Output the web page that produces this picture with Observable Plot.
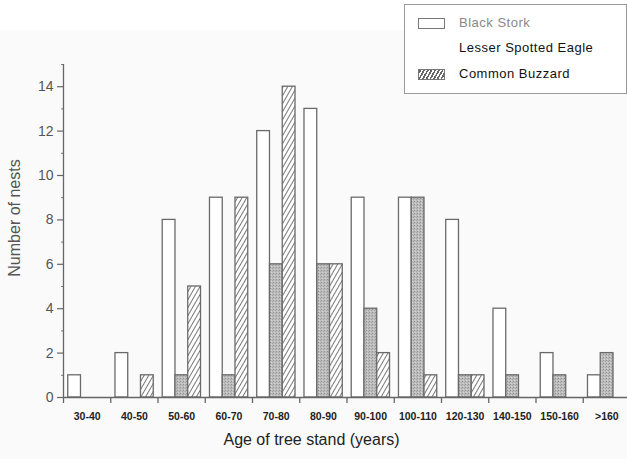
<!DOCTYPE html>
<html>
<head>
<meta charset="utf-8">
<script src="https://cdn.jsdelivr.net/npm/d3@7"></script>
<script src="https://cdn.jsdelivr.net/npm/@observablehq/plot@0.6"></script>
<style>
  html, body { margin: 0; padding: 0; background: #fafafa; overflow: hidden; }
  #wrap { position: relative; width: 627px; height: 459px; background: #fafafa; }
  #topband { position: absolute; left: 0; top: 0; width: 627px; height: 30px; background: #ffffff; }
  #legend { position: absolute; left: 404px; top: 4px; width: 221px; height: 88px;
    border: 1px solid #9a9a9a; background: #ffffff; font-family: "Liberation Sans", Arial, sans-serif;
    font-size: 13px; letter-spacing: 0.5px; }
  .item { position: absolute; left: 0; height: 16px; }
  .sw { position: absolute; left: 13px; width: 27px; height: 11px; box-sizing: border-box; }
  .lab { position: absolute; left: 54px; top: -1px; white-space: nowrap; }
  svg { position: absolute; left: 0; top: 0; }
</style>
</head>
<body>
<div id="wrap">
  <div id="topband"></div>
  <div id="chart"></div>
  <div id="legend"></div>
</div>
<script>
const categories = ["30-40","40-50","50-60","60-70","70-80","80-90","90-100","100-110","120-130","140-150","150-160",">160"];
const blackStork =         [1, 2, 8, 9, 12, 13, 9, 9, 8, 4, 2, 1];
const lesserSpottedEagle = [0, 0, 1, 1,  6,  6, 4, 9, 1, 1, 1, 2];
const commonBuzzard =      [0, 1, 5, 9, 14,  6, 2, 1, 1, 0, 0, 0];
const seriesNames = ["Black Stork", "Lesser Spotted Eagle", "Common Buzzard"];
const yMajor = [0, 2, 4, 6, 8, 10, 12, 14];
const yMinor = [1, 3, 5, 7, 9, 11, 13, 15];

const series = [blackStork, lesserSpottedEagle, commonBuzzard];
const fills = ["#ffffff", "url(#stipple)", "url(#hatch)"];
const pad = 0.1, bw = 0.27;
const rows = [];
categories.forEach((c, i) => {
  series.forEach((vals, k) => {
    if (vals[i] > 0) rows.push({cat: c, i, k, series: seriesNames[k], value: vals[i],
      x1: i + pad + k * bw, x2: i + pad + (k + 1) * bw});
  });
});

const font = "Liberation Sans, Arial, sans-serif";

const plot = Plot.plot({
  width: 627,
  height: 459,
  marginLeft: 63,
  marginRight: 0,
  marginTop: 64,
  marginBottom: 62,
  style: {background: "transparent", fontFamily: font, overflow: "visible"},
  x: {domain: [0, 12], range: [63, 630], axis: null},
  y: {domain: [0, 15], axis: null},
  marks: [
    ...[0, 1, 2].map(k => Plot.rectY(rows.filter(d => d.k === k), {
      x1: "x1", x2: "x2", y1: 0, y2: "value",
      fill: fills[k], stroke: "#6a6a6a", strokeWidth: 1.3
    })),
    Plot.ruleY([0], {stroke: "#666", strokeWidth: 1.3}),
    Plot.ruleX([0], {stroke: "#666", strokeWidth: 1.3}),
    Plot.axisY({ticks: yMajor, tickSize: 6, tickPadding: 4, label: null,
      fontSize: 14, color: "#555", stroke: "#666", strokeWidth: 1.2}),
    Plot.axisY({ticks: yMinor, tickSize: 2, tickFormat: () => "", label: null, stroke: "#777"}),
    Plot.axisX({ticks: d3.range(0, 12), tickSize: 6, tickFormat: () => "", label: null,
      stroke: "#666", strokeWidth: 1.3}),
    Plot.text(categories, {x: (d, i) => i + 0.5, y: 0, text: d => d, dy: 19,
      fontSize: 10.5, fill: "#222", fontWeight: "bold", letterSpacing: 0.7}),
    Plot.text(["Number of nests"], {frameAnchor: "left", textAnchor: "middle", rotate: -90, dx: -49, dy: -13,
      fontSize: 16, fill: "#555", letterSpacing: 1.4}),
    Plot.text(["Age of tree stand (years)"], {frameAnchor: "bottom", textAnchor: "middle", dx: -34, dy: 47,
      fontSize: 16, fill: "#222", letterSpacing: 0.8})
  ]
});

const defs = d3.select(plot).insert("defs", ":first-child");
const st = defs.append("pattern").attr("id", "stipple").attr("patternUnits", "userSpaceOnUse")
  .attr("width", 3).attr("height", 3);
st.append("rect").attr("width", 3).attr("height", 3).attr("fill", "#bdbdbd");
st.append("rect").attr("x", 0).attr("y", 0).attr("width", 1).attr("height", 1).attr("fill", "#8f8f8f");
st.append("rect").attr("x", 2).attr("y", 1).attr("width", 1).attr("height", 1).attr("fill", "#a5a5a5");
st.append("rect").attr("x", 1).attr("y", 2).attr("width", 1).attr("height", 1).attr("fill", "#d5d5d5");
const ht = defs.append("pattern").attr("id", "hatch").attr("patternUnits", "userSpaceOnUse")
  .attr("width", 4).attr("height", 4).attr("patternTransform", "rotate(30)");
ht.append("rect").attr("width", 4).attr("height", 4).attr("fill", "#ffffff");
ht.append("line").attr("x1", 0).attr("y1", 0).attr("x2", 0).attr("y2", 4)
  .attr("stroke", "#555").attr("stroke-width", 1.6);

document.getElementById("chart").appendChild(plot);

// legend
const legend = d3.select("#legend");
const items = [
  {name: seriesNames[0], top: 11, fill: "#ffffff", color: "#888", swatch: true},
  {name: seriesNames[1], top: 36, fill: null, color: "#111", swatch: false},
  {name: seriesNames[2], top: 62, fill: "hatch", color: "#111", swatch: true}
];
items.forEach(it => {
  const g = legend.append("div").attr("class", "item").style("top", it.top + "px");
  if (it.swatch) {
    const sw = g.append("div").attr("class", "sw").style("top", "2px")
      .style("border", "1px solid #777");
    if (it.fill === "hatch") {
      sw.style("background", "repeating-linear-gradient(-60deg, #fff 0px, #fff 1.6px, #666 1.6px, #666 3.2px)");
    } else sw.style("background", it.fill);
  }
  g.append("div").attr("class", "lab").style("color", it.color).text(it.name);
});
</script>
</body>
</html>
